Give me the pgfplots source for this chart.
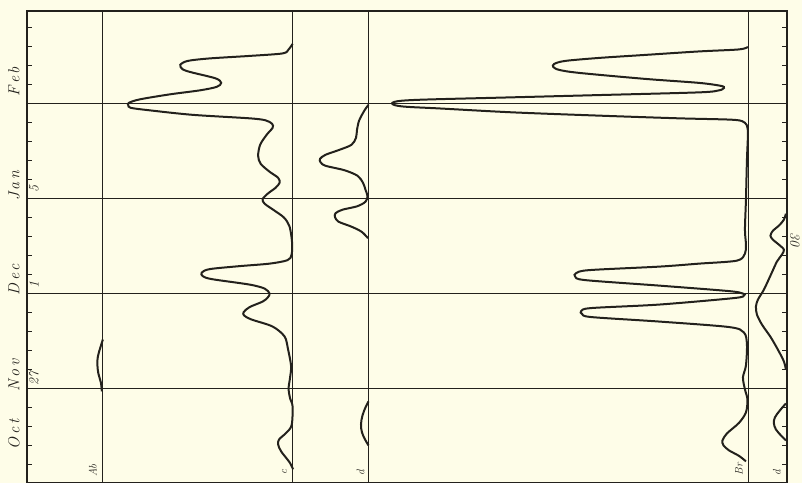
\documentclass[border=0pt]{standalone}
\usepackage{fontspec}
\usepackage{pgfplots}
\pgfplotsset{compat=1.18}
\definecolor{paper}{RGB}{254,253,232}
\definecolor{ink}{RGB}{35,33,28}
\newcommand{\lsp}{\kern2.5pt}
\begin{document}
\begin{tikzpicture}
\begin{axis}[
  x=1pt, y=1pt, y dir=reverse,
  xmin=27, xmax=788, ymin=11, ymax=483,
  axis on top,
  clip=false,
  axis line style={ink, line width=1.3pt},
  xtick=\empty,
  ytick={28,47,...,465},
  yticklabels={},
  tick align=inside,
  major tick length=5pt,
  tick style={ink, line width=1pt},
  ytick pos=both,
]
\fill[paper] (axis cs:0,0) rectangle (axis cs:803,484);
% grid lines
\draw[ink, line width=0.9pt] (axis cs:27,104) -- (axis cs:788,104);
\draw[ink, line width=0.9pt] (axis cs:27,199) -- (axis cs:788,199);
\draw[ink, line width=0.9pt] (axis cs:27,294) -- (axis cs:788,294);
\draw[ink, line width=0.9pt] (axis cs:27,389) -- (axis cs:788,389);
\draw[ink, line width=0.9pt] (axis cs:103,11) -- (axis cs:103,483);
\draw[ink, line width=0.9pt] (axis cs:293,11) -- (axis cs:293,483);
\draw[ink, line width=0.9pt] (axis cs:369,11) -- (axis cs:369,483);
\draw[ink, line width=0.9pt] (axis cs:749,11) -- (axis cs:749,483);
% labels left
\node[rotate=90, ink, font=\fontsize{16}{18}\selectfont\itshape] at (axis cs:14,435) {O\lsp c\lsp t};
\node[rotate=90, ink, font=\fontsize{16}{18}\selectfont\itshape] at (axis cs:14,376) {N\lsp o\lsp v};
\node[rotate=90, ink, font=\fontsize{16}{18}\selectfont\itshape] at (axis cs:14,280) {D\lsp e\lsp c};
\node[rotate=90, ink, font=\fontsize{16}{18}\selectfont\itshape] at (axis cs:14,186) {J\lsp a\lsp n};
\node[rotate=90, ink, font=\fontsize{16}{18}\selectfont\itshape] at (axis cs:14,82) {F\lsp e\lsp b};
\node[rotate=90, ink, font=\fontsize{14}{16}\selectfont\itshape] at (axis cs:34,379) {27};
\node[rotate=90, ink, font=\fontsize{14}{16}\selectfont\itshape] at (axis cs:34,285) {1};
\node[rotate=90, ink, font=\fontsize{14}{16}\selectfont\itshape] at (axis cs:34,189) {5};
\node[rotate=-90, ink, font=\fontsize{14}{16}\selectfont\itshape] at (axis cs:796,240) {30};
% bottom labels
\node[rotate=90, ink, font=\fontsize{11}{12}\selectfont\itshape] at (axis cs:93,471) {Ab};
\node[rotate=90, ink, font=\fontsize{11}{12}\selectfont\itshape] at (axis cs:285,473) {c};
\node[rotate=90, ink, font=\fontsize{11}{12}\selectfont\itshape] at (axis cs:361,473) {d};
\node[rotate=90, ink, font=\fontsize{11}{12}\selectfont\itshape] at (axis cs:740,470) {Br};
\node[rotate=90, ink, font=\fontsize{11}{12}\selectfont\itshape] at (axis cs:778,473) {d};
% Ab
\addplot[ink, line width=2pt, smooth, tension=0.6] coordinates {
(103,340) (100.5,348) (98,357) (97.5,365) (98.5,374) (101,383) (102,392)};
% c
\addplot[ink, line width=2pt, smooth, tension=0.5] coordinates {
(293,44) (289,49.5) (283,53.5) (250,56) (210,58.5) (188,61) (180.5,65) (183,69.5) (192,72.5) (216,78.5) (221.5,83) (217,87) (200,90.5) (170,94.5) (140,99.5) (129,103) (128.5,105.5) (131,108) (150,110.5) (193,115) (250,118.5) (266,120.5) (272.5,124) (273,128) (267,135) (260.5,145) (258.5,156) (261,164) (270,172) (278.5,178) (280,183) (276,188) (268,194) (263,199.5) (265,204) (275,211) (284.5,218) (290,227) (292.5,243) (292,255) (288,260.5) (270,264) (240,266.5) (210,269.5) (202,273) (203,276.5) (212,279.5) (250,285) (265,289) (270,294) (268,298) (263,302) (250,307.5) (244,312.5) (244.5,316) (252,320) (273,327) (285,337) (288.5,350) (291.5,366.5) (290.5,378) (289,389) (290.5,399) (293,407) (292,426) (286,434) (279.5,440) (278.5,445) (281.5,452) (290,463) (293.5,470)};
% d (first) upper
\addplot[ink, line width=2pt, smooth, tension=0.5] coordinates {
(369,105) (366,109) (363,114) (359.5,121) (357.5,130) (356.5,138) (352,145) (340,150) (326,155) (320.5,159) (321,162.5) (326,166) (345,170.5) (358,176) (363.5,183) (366,190) (368,196.5) (366,202) (358,206.5) (343,210) (336,213.5) (335.5,217.5) (339,222) (352,227) (362,232) (368.5,238.5)};
% d (first) lower
\addplot[ink, line width=2pt, smooth, tension=0.6] coordinates {
(369,402) (366,408) (363,416) (361.5,425) (362.5,433) (365.5,440) (369,446)};
% Br
\addplot[ink, line width=2pt, smooth, tension=0.5] coordinates {
(749,47) (740,49.5) (700,51.5) (646,55) (600,58) (566,61) (555,64) (554,67) (560,70) (580,73) (646,79) (700,83) (722,86) (725,88) (720,90.5) (700,92.5) (600,95.2) (500,97.8) (440,99.3) (415,100.1) (402,100.9) (395,102) (392.5,103.6) (395,105.2) (402,106.5) (415,107.4) (440,108.6) (513,112.5) (600,115.8) (680,118.5) (735,120) (746,123) (748.5,128) (749,135) (748,160) (747,200) (746,230) (747,245) (746,254) (738,261) (700,264) (660,267) (590,270.5) (577,273.5) (576,277) (586,280.5) (660,286) (730,291.5) (744,294) (745,296) (735,298.5) (660,305) (592,308.5) (582,311.5) (583,314.5) (592,317.5) (660,322) (730,327.5) (745,333) (748,345) (747,366) (744,378) (746,390) (748.5,400) (747,413) (740,423.5) (728,434) (723.5,441) (724.5,446) (730,451) (740,456.5) (747,462)};
% d (second) upper
\addplot[ink, line width=2pt, smooth, tension=0.5] coordinates {
(787,214) (785,220) (780,226) (774,231) (771.5,236) (774,240) (780,245) (785,250) (783,255) (778,262) (772,275) (765,290) (759,300) (757,307) (758,315) (763,325) (772,338) (780,352) (785,362) (787,370)};
% d (second) lower
\addplot[ink, line width=2pt, smooth, tension=0.6] coordinates {
(787,404) (781,411) (776,418) (775,424) (777,430) (782,436) (787,441)};
\end{axis}
\end{tikzpicture}
\end{document}
